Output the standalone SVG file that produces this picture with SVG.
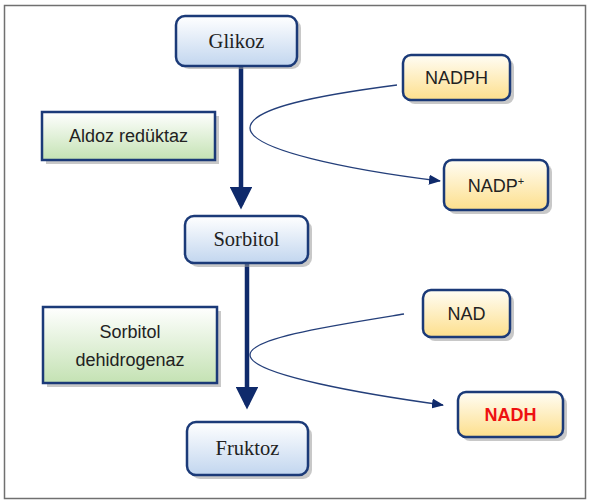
<svg xmlns="http://www.w3.org/2000/svg" width="589" height="501" viewBox="0 0 589 501">
<defs>
<linearGradient id="gBlue" x1="0" y1="0" x2="0" y2="1"><stop offset="0" stop-color="#ffffff"/><stop offset="1" stop-color="#c2d6ef"/></linearGradient>
<linearGradient id="gYel" x1="0" y1="0" x2="0" y2="1"><stop offset="0" stop-color="#fffdf5"/><stop offset="1" stop-color="#fddf8c"/></linearGradient>
<linearGradient id="gGrn" x1="0" y1="0" x2="0" y2="1"><stop offset="0" stop-color="#ffffff"/><stop offset="1" stop-color="#c4e2b3"/></linearGradient>
<marker id="mBig" markerWidth="5" markerHeight="5" refX="4" refY="2.5" orient="auto" markerUnits="strokeWidth"><path d="M0,0 L5,2.5 L0,5 z" fill="#0f2a6b"/></marker>
<marker id="mSmall" markerWidth="12" markerHeight="10" refX="11" refY="5" orient="auto" markerUnits="userSpaceOnUse"><path d="M0,0 L12,5 L0,10 z" fill="#0f2a6b"/></marker>
</defs>
<style>
.shadow{fill:#9a9a9a;opacity:0.55}
.blue{fill:url(#gBlue);stroke:#1b3a78;stroke-width:2.5}
.yel{fill:url(#gYel);stroke:#1b3a78;stroke-width:2.5}
.grn{fill:url(#gGrn);stroke:#1b3a78;stroke-width:2.5}
.serif{font-family:"Liberation Serif","Times New Roman",serif;font-size:20.5px;fill:#222;text-anchor:middle}
.sans{font-family:"Liberation Sans",Arial,sans-serif;font-size:18px;fill:#222;text-anchor:middle}
.thick{stroke:#0f2a6b;stroke-width:4.5;fill:none}
.thin{stroke:#243f7a;stroke-width:1.3;fill:none}
</style>
<rect x="4.5" y="5.5" width="581" height="493" fill="#ffffff" stroke="#707070" stroke-width="1.5"/>
<g id="connectors">
<line class="thick" x1="241" y1="67" x2="241" y2="205" marker-end="url(#mBig)"/>
<line class="thick" x1="247" y1="264" x2="247" y2="405" marker-end="url(#mBig)"/>
<path class="thin" d="M397,85 C320,95 250,108 250,128 C250,150 350,170 440,181" marker-end="url(#mSmall)"/>
<path class="thin" d="M404,314 C330,326 250,338 250,355 C250,375 370,395 443,405" marker-end="url(#mSmall)"/>
</g>
<g id="glikoz">
<rect class="shadow" x="180" y="19" width="121" height="50" rx="9"/>
<rect class="blue" x="176" y="16" width="121" height="50" rx="9"/>
<text class="serif" x="236.5" y="48">Glikoz</text>
</g>
<g id="sorbitol">
<rect class="shadow" x="189" y="220" width="123" height="47" rx="9"/>
<rect class="blue" x="185" y="216" width="123" height="47" rx="9"/>
<text class="serif" x="246.5" y="246">Sorbitol</text>
</g>
<g id="fruktoz">
<rect class="shadow" x="191" y="426" width="121" height="53" rx="9"/>
<rect class="blue" x="187" y="422" width="121" height="53" rx="9"/>
<text class="serif" x="247.5" y="455">Fruktoz</text>
</g>
<g id="aldoz">
<rect class="shadow" x="46" y="116" width="173" height="48"/>
<rect class="grn" x="42" y="112" width="173" height="48"/>
<text class="sans" x="128.5" y="142">Aldoz redüktaz</text>
</g>
<g id="sorbitol-dehidrogenaz">
<rect class="shadow" x="47" y="311" width="174" height="76"/>
<rect class="grn" x="43" y="307" width="174" height="76"/>
<text class="sans" x="130" y="338">Sorbitol</text>
<text class="sans" x="130" y="366">dehidrogenaz</text>
</g>
<g id="nadph">
<rect class="shadow" x="407" y="59" width="107" height="45" rx="8"/>
<rect class="yel" x="403" y="55" width="107" height="45" rx="8"/>
<text class="sans" x="456.5" y="84">NADPH</text>
</g>
<g id="nadp">
<rect class="shadow" x="448" y="164" width="104" height="50" rx="8"/>
<rect class="yel" x="444" y="160" width="104" height="50" rx="8"/>
<text class="sans" x="496" y="192">NADP<tspan font-size="11" dy="-7">+</tspan></text>
</g>
<g id="nad">
<rect class="shadow" x="427" y="294" width="87" height="47" rx="8"/>
<rect class="yel" x="423" y="290" width="87" height="47" rx="8"/>
<text class="sans" x="466.5" y="320">NAD</text>
</g>
<g id="nadh">
<rect class="shadow" x="462" y="396" width="105" height="45" rx="8"/>
<rect class="yel" x="458" y="392" width="105" height="45" rx="8"/>
<text class="sans" x="510.5" y="421" style="fill:#ee1111;font-weight:bold">NADH</text>
</g>
</svg>
